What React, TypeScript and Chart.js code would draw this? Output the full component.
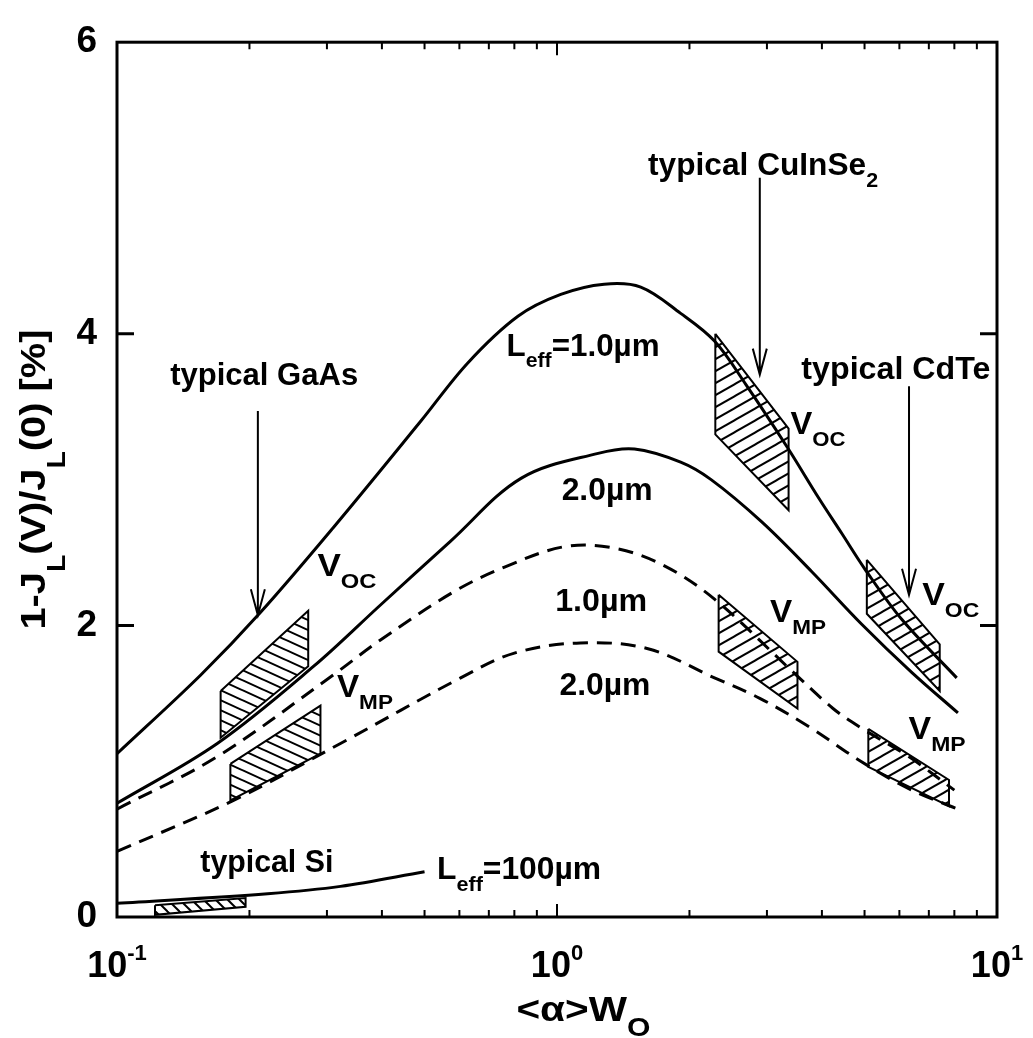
import { useEffect, useRef } from "react";
import { Chart, registerables } from "chart.js";

Chart.register(...registerables);

const FONT = '"Liberation Sans", Arial, Helvetica, sans-serif';

// ---- curves (x = <alpha>W0, y = 1 - JL(V)/JL(0) in %) ----
// Leff = 1.0 um, at Voc (solid)
const voc1X = [0.1, 0.155, 0.212, 0.31, 0.49, 0.627, 0.815, 1.02, 1.28, 1.55, 1.91, 2.28, 2.69, 3.34, 3.94, 4.44, 5.0, 6.08, 8.1];
const voc1Y = [1.12, 1.66, 2.09, 2.67, 3.4, 3.8, 4.12, 4.27, 4.34, 4.32, 4.14, 3.95, 3.65, 3.22, 2.87, 2.63, 2.39, 2.04, 1.64];
// Leff = 2.0 um, at Voc (solid)
const voc2X = [0.1, 0.169, 0.28, 0.397, 0.574, 0.83, 1.24, 1.5, 1.91, 2.24, 2.92, 3.79, 4.92, 6.39, 8.15];
const voc2Y = [0.78, 1.19, 1.72, 2.14, 2.58, 3.01, 3.18, 3.21, 3.12, 3.0, 2.71, 2.37, 2.01, 1.68, 1.4];
// Leff = 1.0 um, at Vmp (dashed)
const vmp1X = [0.1, 0.169, 0.31, 0.397, 0.582, 0.76, 1.04, 1.35, 1.75, 2.28, 3.44, 4.24, 4.89, 6.3, 8.0];
const vmp1Y = [0.74, 1.1, 1.66, 1.9, 2.23, 2.4, 2.54, 2.53, 2.41, 2.18, 1.68, 1.43, 1.3, 1.1, 0.87];
// Leff = 2.0 um, at Vmp (dashed)
const vmp2X = [0.1, 0.184, 0.322, 0.604, 0.8, 1.13, 1.61, 2.28, 2.89, 3.76, 4.89, 6.3, 8.15];
const vmp2Y = [0.45, 0.8, 1.19, 1.64, 1.81, 1.88, 1.84, 1.64, 1.5, 1.3, 1.07, 0.88, 0.74];
// Leff = 100 um (solid, Si)
const siX = [0.1, 0.22, 0.322, 0.5];
const siY = [0.094, 0.16, 0.21, 0.31];

// ---- hatched "typical material" regions ----
const hatchNames = ["Si", "GaAs Voc", "GaAs Vmp", "CuInSe2 Voc", "CuInSe2 Vmp", "CdTe Voc", "CdTe Vmp"];
const hatchXLeft = [0.122, 0.172, 0.181, 2.29, 2.33, 5.06, 5.1];
const hatchXRight = [0.196, 0.272, 0.29, 3.36, 3.52, 7.41, 7.78];
const hatchTopLeft = [0.08, 1.55, 1.05, 4.0, 2.21, 2.45, 1.29];
const hatchTopRight = [0.13, 2.1, 1.45, 3.35, 1.75, 1.87, 0.94];
const hatchBottomRight = [0.07, 1.72, 1.12, 2.79, 1.43, 1.55, 0.76];
const hatchBottomLeft = [0.015, 1.23, 0.8, 3.31, 1.82, 2.08, 1.03];
const hatchDir = ["back", "back", "back", "fwd", "fwd", "fwd", "fwd"];

// ---- arrows ----
const arrowX = [0.209, 2.89, 6.31];
const arrowFrom = [3.47, 5.07, 3.64];
const arrowTo = [2.07, 3.72, 2.21];

// ---- labels ----
const labelTexts = [
  "typical GaAs", "typical CuInSe_{2}", "typical CdTe", "typical Si",
  "L_{eff}=1.0µm", "2.0µm", "1.0µm", "2.0µm", "L_{eff}=100µm",
  "V_{OC}", "V_{MP}", "V_{OC}", "V_{MP}", "V_{OC}", "V_{MP}",
];
const labelX = [0.216, 2.94, 5.89, 0.219, 1.146, 1.3, 1.26, 1.285, 0.82, 0.333, 0.366, 3.92, 3.53, 7.85, 7.31];
const labelY = [3.65, 5.09, 3.69, 0.31, 3.85, 2.86, 2.1, 1.52, 0.26, 2.34, 1.51, 3.31, 2.02, 2.14, 1.22];
const labelWidths = [188, 230, 189, 133, 153, 91, 92, 91, 164, 59, 56, 55, 56, 57, 57];

// ---- axes ----
const xTickValues = [0.1, 1, 10];
const xTickExponents = ["-1", "0", "1"];
const xMinorTicks = [0.2, 0.3, 0.4, 0.5, 0.6, 0.7, 0.8, 0.9, 2, 3, 4, 5, 6, 7, 8, 9];
const yMajorTicks = [2, 4];
const yTitle = "1-J_{L}(V)/J_{L}(0) [%]";
const xTitle = "<α>W_{O}";

type Seg = { t: string; k: "n" | "sub" | "sup" };
function parseRich(s: string): Seg[] {
  const out: Seg[] = [];
  const re = /([_^])\{([^}]*)\}/g;
  let last = 0;
  let m: RegExpExecArray | null;
  while ((m = re.exec(s))) {
    if (m.index > last) out.push({ t: s.slice(last, m.index), k: "n" });
    out.push({ t: m[2], k: m[1] === "_" ? "sub" : "sup" });
    last = m.index + m[0].length;
  }
  if (last < s.length) out.push({ t: s.slice(last), k: "n" });
  return out;
}

function drawRich(
  ctx: CanvasRenderingContext2D,
  s: string,
  cx: number,
  by: number,
  size: number,
  o: { subSize?: number; subDy?: number; supSize?: number; supDy?: number; target?: number; rotate?: boolean }
) {
  const segs = parseRich(s);
  const subSize = o.subSize ?? Math.round(size * 0.68);
  const subDy = o.subDy ?? size * 0.38;
  const supSize = o.supSize ?? Math.round(size * 0.6);
  const supDy = o.supDy ?? -size * 0.45;
  const fontFor = (k: string) => `bold ${k === "n" ? size : k === "sub" ? subSize : supSize}px ${FONT}`;
  let W = 0;
  const widths: number[] = [];
  for (const sg of segs) {
    ctx.font = fontFor(sg.k);
    const w = ctx.measureText(sg.t).width;
    widths.push(w);
    W += w;
  }
  let sx = 1;
  if (o.target) sx = Math.max(0.75, Math.min(1.45, o.target / W));
  ctx.save();
  ctx.translate(cx, by);
  if (o.rotate) ctx.rotate(-Math.PI / 2);
  ctx.scale(sx, 1);
  ctx.fillStyle = "#000";
  ctx.textBaseline = "alphabetic";
  ctx.textAlign = "left";
  let x = -W / 2;
  segs.forEach((sg, i) => {
    ctx.font = fontFor(sg.k);
    const dy = sg.k === "sub" ? subDy : sg.k === "sup" ? supDy : 0;
    ctx.fillText(sg.t, x, dy);
    x += widths[i];
  });
  ctx.restore();
}

function makeHatch(dir: string, w: number, h: number, lw: number): CanvasPattern | string {
  const c = document.createElement("canvas");
  c.width = w;
  c.height = h;
  const g = c.getContext("2d");
  if (!g) return "rgba(0,0,0,0.3)";
  g.strokeStyle = "#000";
  g.lineWidth = lw;
  for (let k = -1; k <= 1; k++) {
    g.beginPath();
    if (dir === "back") {
      g.moveTo(-w, -h + k * h);
      g.lineTo(2 * w, 2 * h + k * h);
    } else {
      g.moveTo(-w, 2 * h + k * h);
      g.lineTo(2 * w, -h + k * h);
    }
    g.stroke();
  }
  return g.createPattern(c, "repeat") || "rgba(0,0,0,0.3)";
}

const pts = (xs: number[], ys: number[]) => xs.map((x, i) => ({ x, y: ys[i] }));

const annotPlugin = {
  id: "annot",
  afterDatasetsDraw(chart: any) {
    const { ctx, chartArea: a, scales } = chart;
    const xs = scales.x;
    const ys = scales.y;
    ctx.save();
    ctx.strokeStyle = "#000";
    ctx.lineCap = "butt";
    // frame
    ctx.lineWidth = 3;
    ctx.strokeRect(a.left, a.top, a.right - a.left, a.bottom - a.top);
    // x ticks (inward), top & bottom
    ctx.lineWidth = 2;
    const drawXT = (v: number, len: number) => {
      const px = xs.getPixelForValue(v);
      ctx.beginPath();
      ctx.moveTo(px, a.bottom);
      ctx.lineTo(px, a.bottom - len);
      ctx.moveTo(px, a.top);
      ctx.lineTo(px, a.top + len);
      ctx.stroke();
    };
    xMinorTicks.forEach((v) => drawXT(v, 7));
    drawXT(1, 13);
    // y ticks (inward) left & right
    ctx.lineWidth = 3;
    yMajorTicks.forEach((v) => {
      const py = ys.getPixelForValue(v);
      ctx.beginPath();
      ctx.moveTo(a.left, py);
      ctx.lineTo(a.left + 17, py);
      ctx.moveTo(a.right, py);
      ctx.lineTo(a.right - 17, py);
      ctx.stroke();
    });
    // arrows
    ctx.lineWidth = 2;
    arrowX.forEach((v, i) => {
      const px = xs.getPixelForValue(v);
      const p1 = ys.getPixelForValue(arrowFrom[i]);
      const p2 = ys.getPixelForValue(arrowTo[i]);
      ctx.beginPath();
      ctx.moveTo(px, p1);
      ctx.lineTo(px, p2);
      ctx.moveTo(px - 7, p2 - 26);
      ctx.lineTo(px, p2);
      ctx.lineTo(px + 7, p2 - 26);
      ctx.stroke();
    });
    // labels in the plot
    labelTexts.forEach((t, i) => {
      const px = xs.getPixelForValue(labelX[i]);
      const py = ys.getPixelForValue(labelY[i]);
      drawRich(ctx, t, px, py, 31, { target: labelWidths[i] });
    });
    // x tick labels
    xTickValues.forEach((v, i) => {
      const px = xs.getPixelForValue(v);
      drawRich(ctx, `10^{${xTickExponents[i]}}`, px, a.bottom + 60, 36, { supSize: 22, supDy: -17 });
    });
    // axis titles
    drawRich(ctx, xTitle, a.left + (a.right - a.left) * 0.53, a.bottom + 104, 35, {
      subSize: 26,
      subDy: 15,
      target: 134,
    });
    drawRich(ctx, yTitle, a.left - 72, (a.top + a.bottom) / 2, 35, {
      subSize: 25,
      subDy: 20,
      target: 300,
      rotate: true,
    });
    ctx.restore();
  },
};

export default function App() {
  const ref = useRef<HTMLCanvasElement>(null);
  useEffect(() => {
    const canvas = ref.current;
    if (!canvas) return;
    const curve = (label: string, xs: number[], ys: number[], dashed: boolean) => ({
      label,
      data: pts(xs, ys),
      showLine: true,
      borderColor: "#000",
      backgroundColor: "#000",
      borderWidth: 3,
      borderDash: dashed ? [15, 9] : [],
      tension: 0.35,
      pointRadius: 0,
      fill: false,
    });
    const hatchSets = hatchNames.map((name, i) => {
      const pat =
        i === 0 ? makeHatch("back", 12, 12, 2) : hatchDir[i] === "back" ? makeHatch("back", 22, 10, 2) : makeHatch("fwd", 21, 12, 2);
      return {
        label: name,
        data: [
          { x: hatchXLeft[i], y: hatchTopLeft[i] },
          { x: hatchXRight[i], y: hatchTopRight[i] },
          { x: hatchXRight[i], y: hatchBottomRight[i] },
          { x: hatchXLeft[i], y: hatchBottomLeft[i] },
          { x: hatchXLeft[i], y: hatchTopLeft[i] },
        ],
        showLine: true,
        borderColor: "#000",
        borderWidth: 2,
        backgroundColor: pat,
        tension: 0,
        pointRadius: 0,
        fill: "shape",
      };
    });
    const chart = new Chart(canvas, {
      type: "scatter",
      data: {
        datasets: [
          curve("Leff=1.0µm Voc", voc1X, voc1Y, false),
          curve("Leff=2.0µm Voc", voc2X, voc2Y, false),
          curve("Leff=1.0µm Vmp", vmp1X, vmp1Y, true),
          curve("Leff=2.0µm Vmp", vmp2X, vmp2Y, true),
          curve("Leff=100µm", siX, siY, false),
          ...hatchSets,
        ] as any,
      },
      options: {
        responsive: false,
        animation: false,
        layout: { padding: { top: 22, right: 36, left: 0, bottom: 0 } },
        plugins: { legend: { display: false }, tooltip: { enabled: false } },
        scales: {
          x: {
            type: "logarithmic",
            min: 0.1,
            max: 10,
            ticks: { display: false },
            grid: { display: false, drawTicks: false },
            border: { display: false },
            afterFit: (s: any) => {
              s.height = 121;
            },
          },
          y: {
            type: "linear",
            min: 0,
            max: 6,
            ticks: { stepSize: 2, padding: 20, color: "#000", font: { family: FONT, size: 37, weight: "bold" } },
            grid: { display: false, drawTicks: false },
            border: { display: false },
            afterFit: (s: any) => {
              s.width = 117;
            },
          },
        },
      } as any,
      plugins: [annotPlugin],
    });
    return () => chart.destroy();
  }, []);
  return (
    <div style={{ position: "absolute", left: 0, top: 0, width: 1033, height: 1038, background: "#fff" }}>
      <canvas ref={ref} width={1033} height={1038} style={{ display: "block", width: 1033, height: 1038 }} />
    </div>
  );
}
